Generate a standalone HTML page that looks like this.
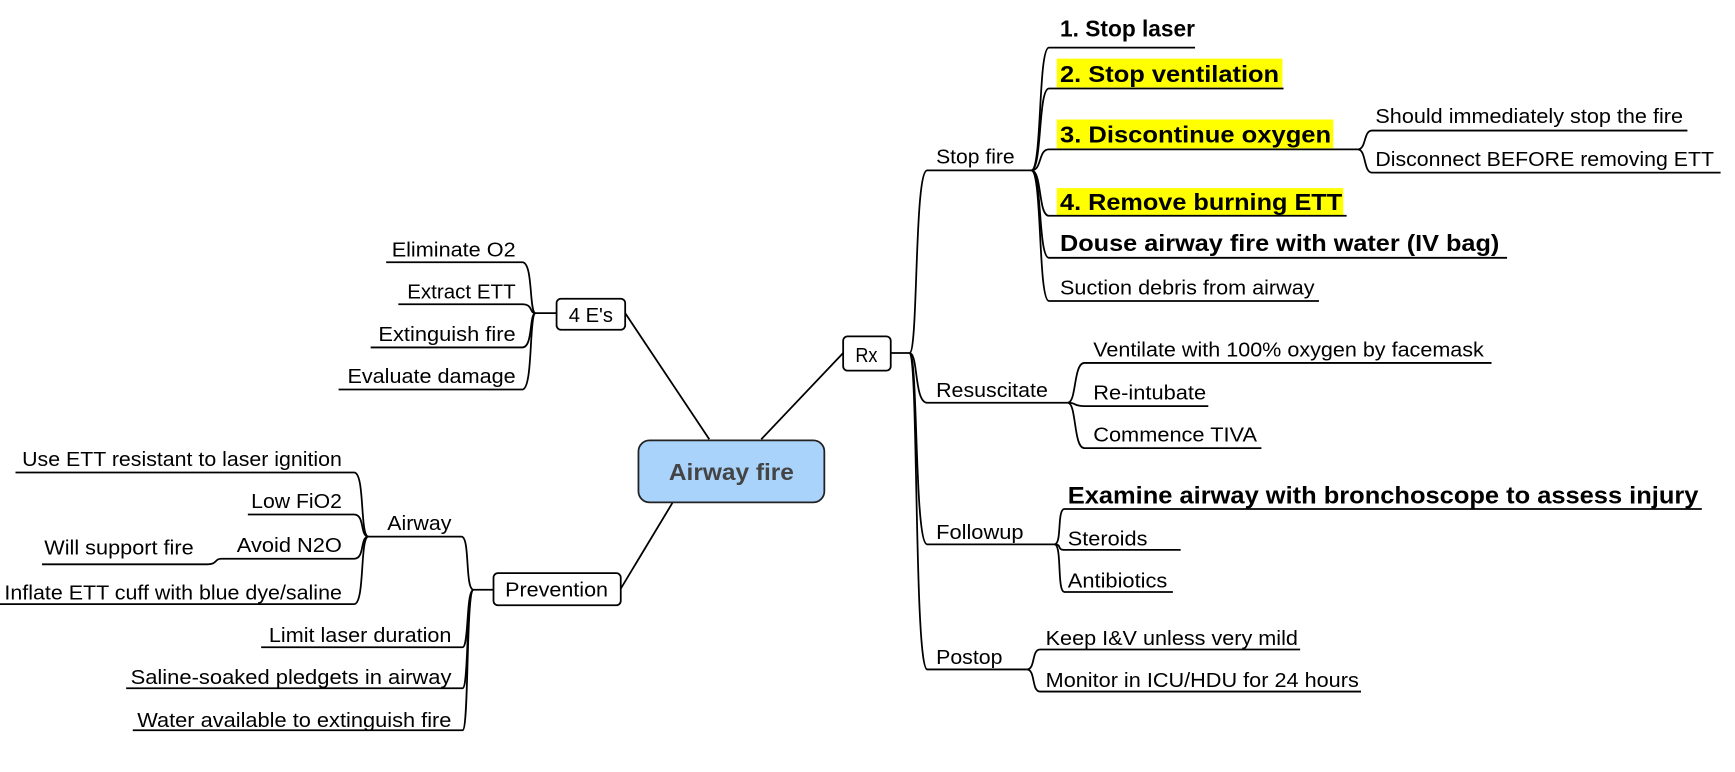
<!DOCTYPE html>
<html><head><meta charset="utf-8"><style>
html,body{margin:0;padding:0;background:#fff;width:1735px;height:772px;overflow:hidden}
svg{display:block}
text{font-family:"Liberation Sans",Arial,sans-serif;fill:#000}
.n{font-size:18.5px}
.b{font-size:21px;font-weight:bold}
path,line{fill:none;stroke:#000;stroke-width:1.6}
</style></head><body>
<svg width="1735" height="772" viewBox="0 0 1568 697.7" preserveAspectRatio="none" xmlns="http://www.w3.org/2000/svg">
<line x1="565" y1="283" x2="641" y2="397"/>
<line x1="688" y1="397" x2="762" y2="319"/>
<line x1="608" y1="454" x2="561" y2="532"/>
<rect x="577" y="398" width="168" height="56" rx="10" fill="#a9d3fb" stroke="#222" stroke-width="1.6"/>
<text x="661" y="434" text-anchor="middle" style="font-size:21px;font-weight:bold;fill:#444" textLength="113" lengthAdjust="spacingAndGlyphs">Airway fire</text>

<rect x="503" y="270" width="62" height="28" rx="4" fill="#fff" stroke="#000" stroke-width="1.6"/>
<text class="n" x="534" y="291" text-anchor="middle" textLength="40" lengthAdjust="spacingAndGlyphs">4 E's</text>
<line x1="503" y1="283" x2="484" y2="283"/>
<path d="M484 283 C478 283 482 237 472 237 L349 237"/>
<path d="M484 283 C478 283 482 275 472 275 L360 275"/>
<path d="M484 283 C478 283 482 314 472 314 L335 314"/>
<path d="M484 283 C478 283 482 352 472 352 L306 352"/>
<text class="n" x="466" y="232" text-anchor="end" textLength="112" lengthAdjust="spacingAndGlyphs">Eliminate O2</text>
<text class="n" x="466" y="270" text-anchor="end" textLength="98" lengthAdjust="spacingAndGlyphs">Extract ETT</text>
<text class="n" x="466" y="308" text-anchor="end" textLength="124" lengthAdjust="spacingAndGlyphs">Extinguish fire</text>
<text class="n" x="466" y="346" text-anchor="end" textLength="152" lengthAdjust="spacingAndGlyphs">Evaluate damage</text>

<rect x="446" y="518" width="115" height="29" rx="4" fill="#fff" stroke="#000" stroke-width="1.6"/>
<text class="n" x="503" y="539" text-anchor="middle" textLength="93" lengthAdjust="spacingAndGlyphs">Prevention</text>
<line x1="446" y1="533" x2="428" y2="533"/>
<path d="M428 533 C420 533 425 485 417 485 L333 485"/>
<path d="M428 533 C421 533 424 585 418 585 L236 585"/>
<path d="M428 533 C421 533 424 622 418 622 L114 622"/>
<path d="M428 533 C421 533 424 660 418 660 L120 660"/>
<text class="n" x="350" y="479" textLength="58" lengthAdjust="spacingAndGlyphs">Airway</text>
<text class="n" x="408" y="580" text-anchor="end" textLength="165" lengthAdjust="spacingAndGlyphs">Limit laser duration</text>
<text class="n" x="408" y="618" text-anchor="end" textLength="290" lengthAdjust="spacingAndGlyphs">Saline-soaked pledgets in airway</text>
<text class="n" x="408" y="657" text-anchor="end" textLength="284" lengthAdjust="spacingAndGlyphs">Water available to extinguish fire</text>
<path d="M333 485 C325 485 330 427 320 427 L14 427"/>
<path d="M333 485 C325 485 330 465 320 465 L224 465"/>
<path d="M333 485 C325 485 330 505 320 505 L200 505 C194 505 196 510 188 510 L38 510"/>
<path d="M333 485 C325 485 330 546 320 546 L0 546"/>
<text class="n" x="309" y="421" text-anchor="end" textLength="289" lengthAdjust="spacingAndGlyphs">Use ETT resistant to laser ignition</text>
<text class="n" x="309" y="459" text-anchor="end" textLength="82" lengthAdjust="spacingAndGlyphs">Low FiO2</text>
<text class="n" x="309" y="499" text-anchor="end" textLength="95" lengthAdjust="spacingAndGlyphs">Avoid N2O</text>
<text class="n" x="175" y="501" text-anchor="end" textLength="135" lengthAdjust="spacingAndGlyphs">Will support fire</text>
<text class="n" x="309" y="542" text-anchor="end" textLength="305" lengthAdjust="spacingAndGlyphs">Inflate ETT cuff with blue dye/saline</text>

<rect x="762" y="304" width="43" height="31" rx="4" fill="#fff" stroke="#000" stroke-width="1.6"/>
<text class="n" x="783" y="327" text-anchor="middle" textLength="20" lengthAdjust="spacingAndGlyphs">Rx</text>
<line x1="805" y1="319" x2="822" y2="319"/>
<path d="M822 319 C830 319 826 154 838 154 L932 154"/>
<path d="M822 319 C830 319 826 364 838 364 L965 364"/>
<path d="M822 319 C830 319 826 492 838 492 L953 492"/>
<path d="M822 319 C830 319 826 605 838 605 L928 605"/>
<text class="n" x="846" y="148" textLength="71" lengthAdjust="spacingAndGlyphs">Stop fire</text>
<text class="n" x="846" y="359" textLength="101" lengthAdjust="spacingAndGlyphs">Resuscitate</text>
<text class="n" x="846" y="487" textLength="79" lengthAdjust="spacingAndGlyphs">Followup</text>
<text class="n" x="846" y="600" textLength="60" lengthAdjust="spacingAndGlyphs">Postop</text>

<rect x="955" y="53" width="204" height="26" fill="#ffff00"/>
<rect x="955" y="108" width="250" height="26" fill="#ffff00"/>
<rect x="955" y="170" width="259" height="25" fill="#ffff00"/>
<path d="M932 154 C942 154 938 43 948 43 L1080 43"/>
<path d="M932 154 C942 154 938 80 948 80 L1160 80"/>
<path d="M932 154 C942 154 938 135 948 135 L1227 135"/>
<path d="M932 154 C942 154 938 195 948 195 L1217 195"/>
<path d="M932 154 C942 154 938 233 948 233 L1362 233"/>
<path d="M932 154 C942 154 938 272 948 272 L1192 272"/>
<text class="b" x="958" y="33" textLength="122" lengthAdjust="spacingAndGlyphs">1. Stop laser</text>
<text class="b" x="958" y="74" textLength="198" lengthAdjust="spacingAndGlyphs">2. Stop ventilation</text>
<text class="b" x="958" y="129" textLength="245" lengthAdjust="spacingAndGlyphs">3. Discontinue oxygen</text>
<text class="b" x="958" y="190" textLength="255" lengthAdjust="spacingAndGlyphs">4. Remove burning ETT</text>
<text class="b" x="958" y="227" textLength="397" lengthAdjust="spacingAndGlyphs">Douse airway fire with water (IV bag)</text>
<text class="n" x="958" y="266" textLength="230" lengthAdjust="spacingAndGlyphs">Suction debris from airway</text>
<path d="M1227 135 C1235 135 1232 118 1240 118 L1525 118"/>
<path d="M1227 135 C1235 135 1232 156 1240 156 L1555 156"/>
<text class="n" x="1243" y="111" textLength="278" lengthAdjust="spacingAndGlyphs">Should immediately stop the fire</text>
<text class="n" x="1243" y="150" textLength="306" lengthAdjust="spacingAndGlyphs">Disconnect BEFORE removing ETT</text>

<path d="M965 364 C973 364 970 328 980 328 L1348 328"/>
<path d="M965 364 C973 364 970 367 980 367 L1092 367"/>
<path d="M965 364 C973 364 970 405 980 405 L1140 405"/>
<text class="n" x="988" y="322" textLength="353" lengthAdjust="spacingAndGlyphs">Ventilate with 100% oxygen by facemask</text>
<text class="n" x="988" y="361" textLength="102" lengthAdjust="spacingAndGlyphs">Re-intubate</text>
<text class="n" x="988" y="399" textLength="148" lengthAdjust="spacingAndGlyphs">Commence TIVA</text>

<path d="M953 492 C960 492 955 460 962 460 L1538 460"/>
<path d="M953 492 C960 492 955 497 962 497 L1067 497"/>
<path d="M953 492 C960 492 955 535 962 535 L1060 535"/>
<text x="965" y="455" style="font-size:22px;font-weight:bold" textLength="570" lengthAdjust="spacingAndGlyphs">Examine airway with bronchoscope to assess injury</text>
<text class="n" x="965" y="493" textLength="72" lengthAdjust="spacingAndGlyphs">Steroids</text>
<text class="n" x="965" y="531" textLength="90" lengthAdjust="spacingAndGlyphs">Antibiotics</text>

<path d="M928 605 C936 605 932 587 940 587 L1175 587"/>
<path d="M928 605 C936 605 932 625 940 625 L1230 625"/>
<text class="n" x="945" y="583" textLength="228" lengthAdjust="spacingAndGlyphs">Keep I&amp;V unless very mild</text>
<text class="n" x="945" y="621" textLength="283" lengthAdjust="spacingAndGlyphs">Monitor in ICU/HDU for 24 hours</text>
</svg>
</body></html>
